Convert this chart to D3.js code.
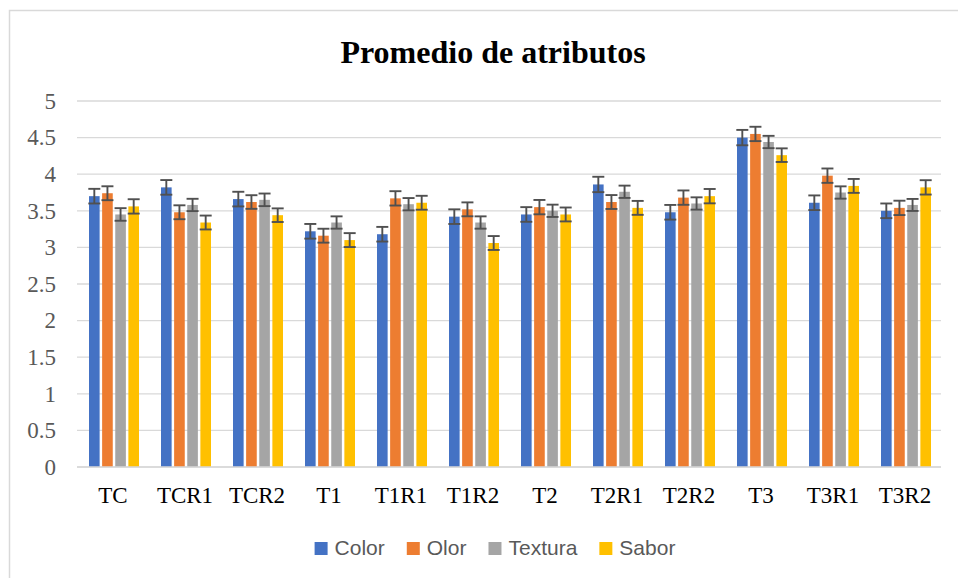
<!DOCTYPE html>
<html>
<head>
<meta charset="utf-8">
<script src="https://cdn.jsdelivr.net/npm/d3@7"></script>
<style>
  html, body { margin: 0; padding: 0; background: #fff; }
  svg { display: block; }
</style>
</head>
<body>
<svg id="chart" width="958" height="578"></svg>
<script>
const categories = ["TC","TCR1","TCR2","T1","T1R1","T1R2","T2","T2R1","T2R2","T3","T3R1","T3R2"];
const seriesNames = ["Color","Olor","Textura","Sabor"];
const colorValues   = [3.70,3.82,3.66,3.22,3.18,3.42,3.45,3.86,3.48,4.50,3.61,3.50];
const olorValues    = [3.74,3.48,3.62,3.16,3.67,3.52,3.55,3.62,3.68,4.55,3.98,3.54];
const texturaValues = [3.45,3.58,3.65,3.34,3.59,3.34,3.50,3.76,3.60,4.44,3.75,3.58];
const saborValues   = [3.56,3.34,3.44,3.10,3.61,3.06,3.45,3.54,3.70,4.26,3.84,3.82];
const colorErrors   = [0.10,0.10,0.10,0.10,0.10,0.10,0.10,0.105,0.10,0.105,0.10,0.10];
const olorErrors    = [0.095,0.095,0.093,0.095,0.098,0.095,0.098,0.095,0.098,0.098,0.098,0.098];
const texturaErrors = [0.086,0.084,0.086,0.084,0.084,0.084,0.084,0.084,0.084,0.084,0.084,0.082];
const saborErrors   = [0.098,0.095,0.093,0.095,0.095,0.095,0.095,0.095,0.098,0.093,0.095,0.098];
const yTicks = [0,0.5,1,1.5,2,2.5,3,3.5,4,4.5,5];
const seriesColors = ["#4472C4","#ED7D31","#A5A5A5","#FFC000"];
const chartTitle = "Promedio de atributos";

const valuesBySeries = [colorValues, olorValues, texturaValues, saborValues];
const errorsBySeries = [colorErrors, olorErrors, texturaErrors, saborErrors];

const svg = d3.select("#chart");
const plotL = 77, plotR = 941, plotT = 101, plotB = 467;

// chart border
svg.append("rect").attr("x", 9.5).attr("y", 10.5).attr("width", 960).attr("height", 580)
  .attr("fill", "none").attr("stroke", "#d9d9d9").attr("stroke-width", 1.5);

const x0 = d3.scaleBand().domain(categories).range([plotL, plotR]).padding(0);
const x1 = d3.scaleBand().domain(seriesNames).range([12, 62]).paddingInner(0.19).paddingOuter(0);
const y = d3.scaleLinear().domain([0, 5]).range([plotB, plotT]);

// gridlines
svg.append("g").selectAll("line").data(yTicks).join("line")
  .attr("x1", plotL).attr("x2", plotR)
  .attr("y1", d => y(d)).attr("y2", d => y(d))
  .attr("stroke", "#d9d9d9").attr("stroke-width", 1.3);

// y labels
const yAxis = d3.axisLeft(y).tickValues(yTicks).tickSize(0).tickPadding(0).tickFormat(d3.format("~g"));
const yg = svg.append("g").attr("transform", `translate(56,0)`).call(yAxis);
yg.select(".domain").remove();
yg.selectAll("text").attr("font-family", "'Liberation Serif','Times New Roman',serif")
  .attr("font-size", 23).attr("fill", "#595959").attr("dy", "0.32em");

// bars
const groups = svg.append("g").selectAll("g").data(categories).join("g")
  .attr("transform", d => `translate(${x0(d)},0)`);

const barData = (c, i) => seriesNames.map((s, k) => ({s, k, v: valuesBySeries[k][i], e: errorsBySeries[k][i]}));

groups.each(function(c, i) {
  const g = d3.select(this);
  const data = barData(c, i);
  g.selectAll("rect").data(data).join("rect")
    .attr("x", d => x1(d.s)).attr("width", x1.bandwidth())
    .attr("y", d => y(d.v)).attr("height", d => y(0) - y(d.v))
    .attr("fill", d => seriesColors[d.k]);
  const eb = g.selectAll("g.eb").data(data).join("g").attr("class", "eb");
  const cxf = d => x1(d.s) + x1.bandwidth() / 2;
  const hw = 6;
  eb.append("line").attr("x1", cxf).attr("x2", cxf)
    .attr("y1", d => y(d.v + d.e)).attr("y2", d => y(d.v - d.e));
  eb.append("line").attr("x1", d => cxf(d) - hw).attr("x2", d => cxf(d) + hw)
    .attr("y1", d => y(d.v + d.e)).attr("y2", d => y(d.v + d.e));
  eb.append("line").attr("x1", d => cxf(d) - hw).attr("x2", d => cxf(d) + hw)
    .attr("y1", d => y(d.v - d.e)).attr("y2", d => y(d.v - d.e));
  eb.selectAll("line").attr("stroke", "#505050").attr("stroke-width", 1.9);
});

// x axis line
svg.append("line").attr("x1", plotL).attr("x2", plotR).attr("y1", y(0)).attr("y2", y(0))
  .attr("stroke", "#d9d9d9").attr("stroke-width", 1.3);

// x labels
const xAxis = d3.axisBottom(x0).tickSize(0).tickPadding(0);
const xg = svg.append("g").attr("transform", `translate(0,503)`).call(xAxis);
xg.select(".domain").remove();
xg.selectAll("text").attr("font-family", "'Liberation Serif','Times New Roman',serif")
  .attr("font-size", 23).attr("fill", "#000").attr("dy", 0).attr("y", 0);

// title
svg.append("text").attr("x", 493).attr("y", 63).attr("text-anchor", "middle")
  .attr("font-family", "'Liberation Serif','Times New Roman',serif")
  .attr("font-weight", "bold").attr("font-size", 32).attr("fill", "#000").text(chartTitle);

// legend
const leg = svg.append("g");
let legX = 0;
seriesNames.forEach((s, k) => {
  const it = leg.append("g");
  it.append("rect").attr("x", 0).attr("y", -13).attr("width", 13).attr("height", 13).attr("fill", seriesColors[k]);
  const t = it.append("text").attr("x", 20).attr("y", 0)
    .attr("font-family", "'Liberation Sans',Arial,sans-serif").attr("font-size", 21)
    .attr("fill", "#595959").text(s);
  const w = 20 + t.node().getComputedTextLength();
  it.attr("transform", `translate(${legX},0)`);
  legX += w + 22;
});
const totalW = legX - 22;
leg.attr("transform", `translate(${494 - totalW / 2 + 1},555)`);
</script>
</body>
</html>
